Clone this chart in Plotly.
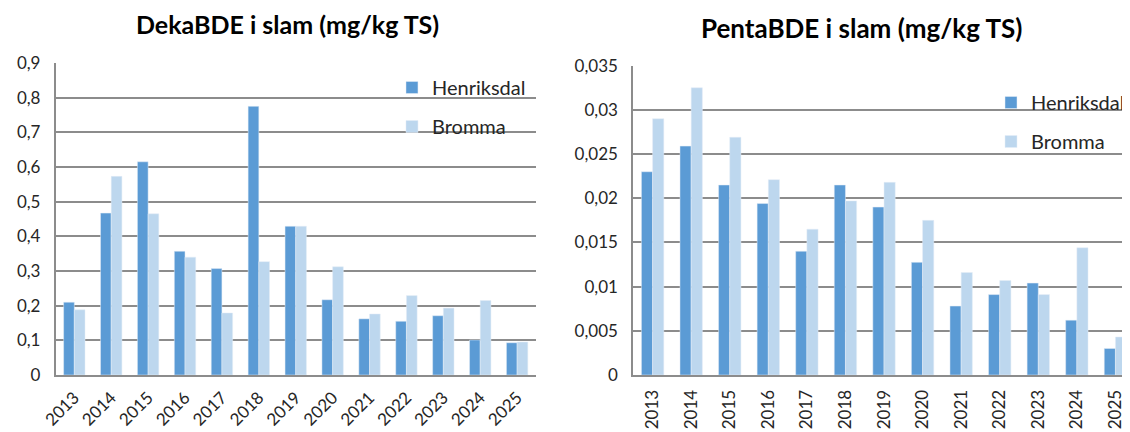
import plotly.graph_objects as go

years = [str(y) for y in range(2013, 2026)]

deka_henriksdal = [0.21, 0.467, 0.615, 0.357, 0.307, 0.775, 0.429, 0.217, 0.162, 0.155, 0.171, 0.101, 0.093]
deka_bromma = [0.188, 0.573, 0.465, 0.34, 0.179, 0.327, 0.429, 0.312, 0.176, 0.229, 0.193, 0.215, 0.095]

penta_henriksdal = [0.023, 0.0259, 0.0215, 0.0194, 0.0140, 0.0215, 0.0190, 0.01275, 0.0078, 0.0091, 0.0104, 0.0062, 0.0030]
penta_bromma = [0.029, 0.0325, 0.0269, 0.0221, 0.0165, 0.0197, 0.0218, 0.0175, 0.0116, 0.0107, 0.0091, 0.0144, 0.0043]

deka_ticks = [0, 0.1, 0.2, 0.3, 0.4, 0.5, 0.6, 0.7, 0.8, 0.9]
deka_ticktext = ["0", "0,1", "0,2", "0,3", "0,4", "0,5", "0,6", "0,7", "0,8", "0,9"]
penta_ticks = [0, 0.005, 0.01, 0.015, 0.02, 0.025, 0.03, 0.035]
penta_ticktext = ["0", "0,005", "0,01", "0,015", "0,02", "0,025", "0,03", "0,035"]

C_H = "#5B9BD5"
C_B = "#BDD7EE"
GRID = "#8C8C8C"
TXT = "#262626"
FONT = "Lato"

# page has an 8px body margin; figure is sized to fill the rest of the window
OFF = 8
W, H = 1130 - OFF, 432 - OFF


def px(x):
    return (x - OFF) / W


def py(y):
    return 1 - (y - OFF) / H


fig = go.Figure()
fig.add_trace(go.Bar(x=years, y=deka_henriksdal, name="Henriksdal", marker_color=C_H,
                     xaxis="x", yaxis="y", legend="legend", legendgroup="a"))
fig.add_trace(go.Bar(x=years, y=deka_bromma, name="Bromma", marker_color=C_B,
                     xaxis="x", yaxis="y", legend="legend", legendgroup="b"))
fig.add_trace(go.Bar(x=years, y=penta_henriksdal, name="Henriksdal", marker_color=C_H,
                     xaxis="x2", yaxis="y2", legend="legend2", legendgroup="c"))
fig.add_trace(go.Bar(x=years, y=penta_bromma, name="Bromma", marker_color=C_B,
                     xaxis="x2", yaxis="y2", legend="legend2", legendgroup="d"))

axis_common = dict(showline=True, linecolor=GRID, linewidth=2, ticks="", automargin=False,
                   tickfont=dict(family=FONT, size=17, color=TXT), zeroline=False)

fig.update_layout(
    width=W, height=H,
    margin=dict(l=0, r=0, t=0, b=0),
    paper_bgcolor="white", plot_bgcolor="white",
    barmode="group", bargap=0.42, bargroupgap=0,
    font=dict(family=FONT, color=TXT),
    xaxis=dict(domain=[px(56), px(537)], anchor="y", tickangle=-45,
               range=[-0.5, 12.5], showgrid=False, ticklabelstandoff=4, **axis_common),
    yaxis=dict(domain=[py(375), py(63)], anchor="x", range=[0, 0.9],
               tickvals=deka_ticks, ticktext=deka_ticktext,
               showgrid=True, gridcolor=GRID, gridwidth=2, ticklabelstandoff=10, **axis_common),
    xaxis2=dict(domain=[px(635), 1], anchor="y2", tickangle=-90,
                range=[-0.5, 12.3], showgrid=False, ticklabelstandoff=6, **axis_common),
    yaxis2=dict(domain=[py(375), py(65.7)], anchor="x2", range=[0, 0.035],
                tickvals=penta_ticks, ticktext=penta_ticktext,
                showgrid=True, gridcolor=GRID, gridwidth=2, ticklabelstandoff=10, **axis_common),
    legend=dict(x=px(393), y=py(68), xanchor="left", yanchor="top",
                bgcolor="rgba(0,0,0,0)", font=dict(family=FONT, size=20, color=TXT),
                tracegroupgap=10),
    legend2=dict(x=px(994), y=py(83), xanchor="left", yanchor="top",
                 bgcolor="rgba(0,0,0,0)", font=dict(family=FONT, size=20, color=TXT),
                 tracegroupgap=10),
    annotations=[
        dict(text="<b>DekaBDE i slam (mg/kg TS)</b>", x=px(288), y=py(8),
             xref="paper", yref="paper", showarrow=False, xanchor="center", yanchor="top",
             borderpad=0, font=dict(family=FONT, size=25, color="black")),
        dict(text="<b>PentaBDE i slam (mg/kg TS)</b>", x=px(864), y=py(11),
             xref="paper", yref="paper", showarrow=False, xanchor="center", yanchor="top",
             borderpad=0, font=dict(family=FONT, size=26, color="black")),
    ],
)

fig.write_html("out.html")
